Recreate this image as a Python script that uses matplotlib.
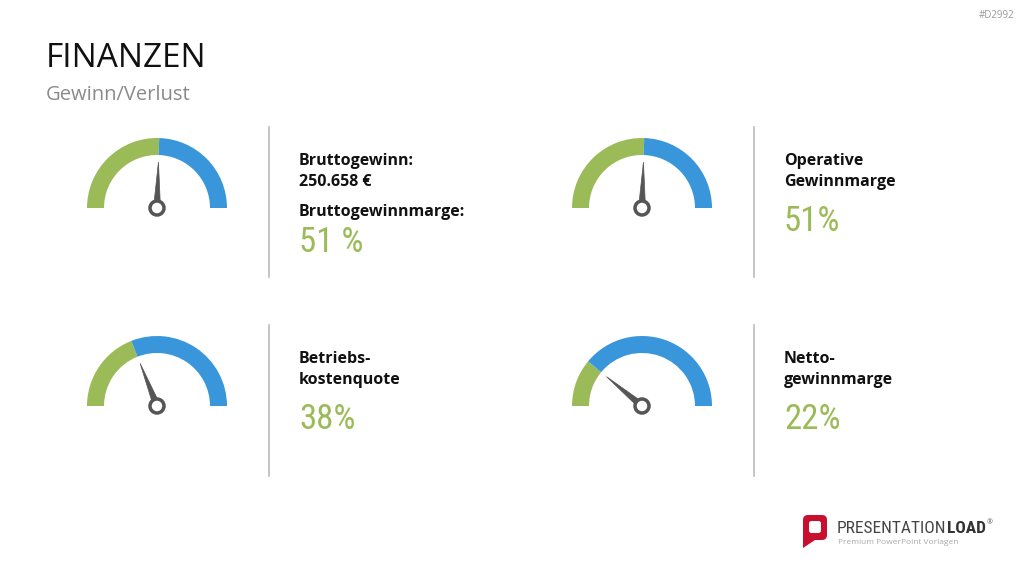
import numpy as np
import matplotlib.pyplot as plt
from matplotlib.patches import Wedge, Circle, Polygon, FancyBboxPatch
from matplotlib import font_manager

# gauge data
values = [51, 51, 38, 22]
value_texts = ["51 %", "51%", "38%", "22%"]
label_lines = [["Bruttogewinn:", "250.658 €"], ["Operative", "Gewinnmarge"],
               ["Betriebs-", "kostenquote"], ["Netto-", "gewinnmarge"]]
extra_label = "Bruttogewinnmarge:"

GREEN = "#9BBB59"
BLUE = "#3A96DB"
DARK = "#555555"

W, H = 1024, 576
fig = plt.figure(figsize=(W / 100, H / 100), dpi=100)
ax = fig.add_axes([0, 0, 1, 1])
ax.set_xlim(0, W)
ax.set_ylim(0, H)
ax.set_aspect("equal")
ax.axis("off")

def Y(yp):
    return H - yp

sans = ["Open Sans", "DejaVu Sans"]
names = {f.name for f in font_manager.fontManager.ttflist}
cond = [n for n in ["Roboto Condensed", "DejaVu Sans Condensed", "Liberation Sans Narrow"] if n in names]
narrow = cond[:1] + ["DejaVu Sans"]

ax.text(46, Y(67), "FINANZEN", fontsize=24, family=sans, color="#111111")
ax.text(46, Y(100), "Gewinn/Verlust", fontsize=14.5, family=sans, color="#8a8a8a")
ax.text(1014, Y(18), "#D2992", fontsize=7, family=sans, color="#999999", ha="right")

centers = [(157, 208), (642, 208), (157, 406), (642, 406)]
text_x = [299, 784, 299, 784]
R_out, R_in = 70, 53

def gauge(cx, cy, v):
    cy = Y(cy)
    split = 180 - v / 100 * 180
    ax.add_patch(Wedge((cx, cy), R_out, split, 180, width=R_out - R_in,
                       facecolor=GREEN, edgecolor="none"))
    ax.add_patch(Wedge((cx, cy), R_out, 0, split, width=R_out - R_in,
                       facecolor=BLUE, edgecolor="none"))
    a = np.radians(split)
    tip = (cx + 46 * np.cos(a), cy + 46 * np.sin(a))
    perp = a + np.pi / 2
    b1 = (cx + 3.5 * np.cos(perp), cy + 3.5 * np.sin(perp))
    b2 = (cx - 3.5 * np.cos(perp), cy - 3.5 * np.sin(perp))
    ax.add_patch(Polygon([b1, tip, b2], closed=True, facecolor=DARK, edgecolor=DARK, lw=0.5))
    ax.add_patch(Circle((cx, cy), 7, facecolor="white", edgecolor=DARK, lw=2.5, zorder=5))

for i, (c, v) in enumerate(zip(centers, values)):
    gauge(c[0], c[1], v)
    top = c[1] - 43
    tx = text_x[i]
    ax.text(tx, Y(top), label_lines[i][0], fontsize=11.5, weight="bold", family=sans, color="#111111")
    ax.text(tx, Y(top + 21), label_lines[i][1], fontsize=11.5, weight="bold", family=sans, color="#111111")
    if i == 0:
        ax.text(tx, Y(top + 51), extra_label, fontsize=11.5, weight="bold", family=sans, color="#111111")
        vy = top + 87
    else:
        vy = top + 66
    ax.text(tx, Y(vy), value_texts[i], fontsize=25, family=narrow, stretch="condensed",
            weight="normal", color=GREEN)

# dividers
for x in [269, 754]:
    for y0, y1 in [(127, 277), (325, 476)]:
        ax.plot([x, x], [Y(y0), Y(y1)], color="#bbbbbb", lw=1.2)

# logo
ax.add_patch(FancyBboxPatch((803, Y(540)), 24, 25, boxstyle="round,pad=0,rounding_size=5",
                            facecolor="#C8102E", edgecolor="none"))
ax.add_patch(Polygon([(803, Y(534)), (803, Y(548)), (815, Y(540))], closed=True,
                     facecolor="#C8102E", edgecolor="none"))
ax.add_patch(FancyBboxPatch((809, Y(533)), 12, 12, boxstyle="round,pad=0,rounding_size=2.5",
                            facecolor="white", edgecolor="none"))
t1 = ax.text(837, Y(533), "PRESENTATION", fontsize=12.5, family=narrow, stretch="condensed", color="#444444")
fig.canvas.draw()
bb = t1.get_window_extent()
x_end = ax.transData.inverted().transform((bb.x1, bb.y0))[0]
t2 = ax.text(x_end, Y(533), "LOAD", fontsize=12.5, weight="bold", family=narrow, stretch="condensed",
             color="#333333")
fig.canvas.draw()
bb2 = t2.get_window_extent()
x_end2 = ax.transData.inverted().transform((bb2.x1, bb2.y0))[0]
ax.text(x_end2 + 1, Y(524), "®", fontsize=5, family=sans, color="#555555")
ax.text(838, Y(544), "Premium PowerPoint Vorlagen", fontsize=6, family=sans, color="#aaaaaa")

fig.savefig("out.png", dpi=100)
